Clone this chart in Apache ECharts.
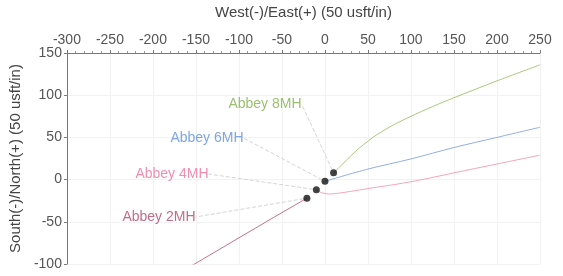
<!DOCTYPE html>
<html lang="en">
  <head>
    <meta charset="UTF-8" />
    <title>Abbey wells plan view</title>
    <script src="https://cdn.jsdelivr.net/npm/echarts@6/dist/echarts.min.js"></script>
  </head>
  <body style="margin:0">
    <div id="main" style="width: 563px; height: 276px"></div>
    <script type="text/javascript">
      // wells and their surface points
      const wells = ['Abbey 2MH', 'Abbey 4MH', 'Abbey 6MH', 'Abbey 8MH'];
      const surfaceX = [-21, -10, 0, 10];
      const surfaceY = [-22, -12, -2, 8];

      // trajectories (usft)
      const path2MHx = [-21, -60, -100, -155];
      const path2MHy = [-22, -45, -69, -102];
      const path4MHx = [-10, -5, 0, 5, 10, 20, 40, 60, 80, 100, 120, 150, 200, 250];
      const path4MHy = [-12, -15, -16.5, -17, -16.8, -15.5, -12.3, -9, -6, -2.5, 1.5, 8, 18.5, 29];
      const path6MHx = [0, 50, 100, 150, 200, 250];
      const path6MHy = [-2, 12.5, 24.5, 38, 50, 62];
      const path8MHx = [10, 20, 30, 40, 50, 60, 80, 100, 125, 150, 200, 250];
      const path8MHy = [8, 18, 28, 37.5, 45.5, 53, 65, 75, 86.5, 97, 117, 136];

      const lineColors = ['#c8728a', '#f5a3bb', '#90aee8', '#a8c87a'];
      const textColors = ['#b04a68', '#f0709a', '#5e90e0', '#7fb04a'];
      // where the well names sit (pixels)
      const labelPos = [[159, 217], [172, 174], [207, 138], [265, 104]];

      const zip = (xs, ys) => xs.map((x, i) => [x, ys[i]]);
      const paths = [
        zip(path2MHx, path2MHy),
        zip(path4MHx, path4MHy),
        zip(path6MHx, path6MHy),
        zip(path8MHx, path8MHy)
      ];

      let myChart = echarts.init(document.getElementById('main'));

      let series = paths.map((p, i) => ({
        name: wells[i],
        type: 'line',
        data: p,
        smooth: i > 0 ? 0.3 : false,
        showSymbol: false,
        lineStyle: { color: lineColors[i], width: 1 },
        z: 2
      }));

      series.push({
        type: 'scatter',
        symbolSize: 7,
        itemStyle: { color: '#111' },
        z: 5,
        data: wells.map((w, i) => ({
          name: w,
          value: [surfaceX[i], surfaceY[i]],
          label: { color: textColors[i] }
        })),
        label: {
          show: true,
          formatter: '{b}',
          fontSize: 14,
          fontFamily: 'Liberation Sans, Arial, sans-serif'
        },
        labelLayout: (params) => ({
          x: labelPos[params.dataIndex][0],
          y: labelPos[params.dataIndex][1],
          align: 'center',
          verticalAlign: 'middle'
        }),
        labelLine: {
          show: true,
          length2: 0,
          lineStyle: { color: '#d4d4d4', width: 1, type: 'dashed' }
        }
      });

      let options = {
        animation: false,
        grid: { left: 65, right: 23, top: 51, bottom: 12 },
        textStyle: { fontFamily: 'Liberation Sans, Arial, sans-serif' },
        xAxis: {
          type: 'value',
          position: 'top',
          min: -300,
          max: 250,
          interval: 50,
          name: 'West(-)/East(+) (50 usft/in)',
          nameLocation: 'middle',
          nameGap: 33,
          nameTextStyle: { fontSize: 15, color: '#444' },
          axisLine: { show: true, onZero: false, lineStyle: { color: '#777' } },
          axisTick: { show: true, length: 3, lineStyle: { color: '#777' } },
          minorTick: { show: true, splitNumber: 5, length: 2, lineStyle: { color: '#999' } },
          axisLabel: { fontSize: 14, color: '#555', margin: 6 },
          splitLine: { show: true, lineStyle: { color: '#f2f2f2' } }
        },
        yAxis: {
          type: 'value',
          min: -100,
          max: 150,
          interval: 50,
          name: 'South(-)/North(+) (50 usft/in)',
          nameLocation: 'middle',
          nameRotate: 90,
          nameGap: 40,
          nameTextStyle: { fontSize: 15, color: '#444' },
          axisLine: { show: true, onZero: false, lineStyle: { color: '#777' } },
          axisTick: { show: true, length: 3, lineStyle: { color: '#777' } },
          axisLabel: { fontSize: 14, color: '#555', margin: 5 },
          splitLine: { show: true, lineStyle: { color: '#f2f2f2' } }
        },
        series: series
      };

      myChart.setOption(options);
    </script>
  </body>
</html>
